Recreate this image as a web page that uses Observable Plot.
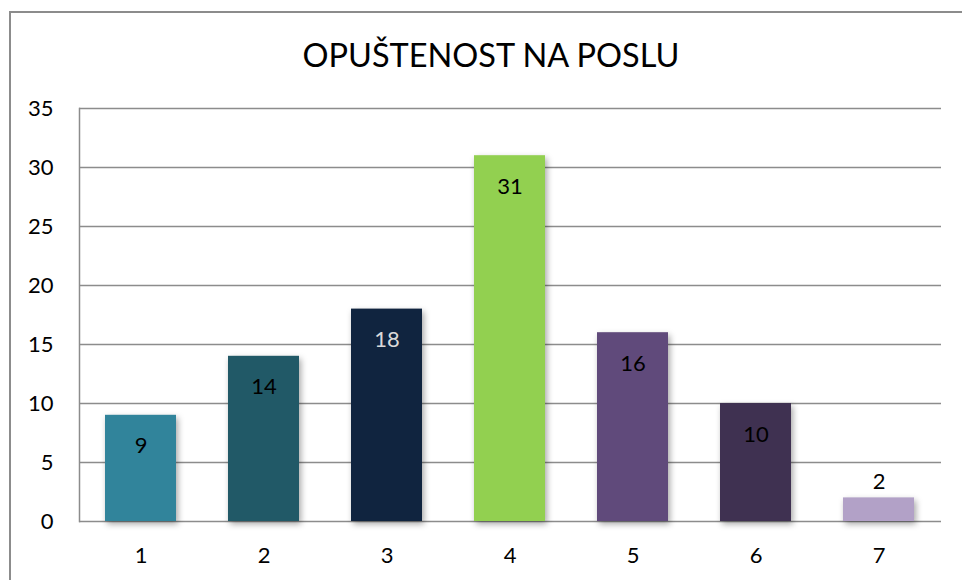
<!DOCTYPE html>
<html>
<head>
<meta charset="utf-8">
<script src="https://cdn.jsdelivr.net/npm/d3@7"></script>
<script src="https://cdn.jsdelivr.net/npm/@observablehq/plot@0.6"></script>
<style>
  html, body { margin: 0; padding: 0; background: #fff; }
  #wrap { position: relative; width: 962px; height: 580px; overflow: hidden; font-family: Lato, "Open Sans", sans-serif; }
  #frame { position: absolute; left: 9px; top: 11px; width: 1000px; height: 620px; border-left: 2px solid #8c8c8c; border-top: 2px solid #8c8c8c; box-sizing: border-box; }
  #title { position: absolute; left: 10px; width: 962px; top: 35px; text-align: center; font-size: 32.5px; color: #000; font-weight: 400; }
  #chart { position: absolute; left: 0; top: 0; }
</style>
</head>
<body>
<div id="wrap">
  <div id="frame"></div>
  <div id="title">OPUŠTENOST NA POSLU</div>
  <div id="chart"></div>
</div>
<script>
const categories = ["1", "2", "3", "4", "5", "6", "7"];
const values = [9, 14, 18, 31, 16, 10, 2];
const barColors = ["#31849B", "#215967", "#10243F", "#92D050", "#604A7B", "#3F3151", "#B2A1C7"];
const labelColors = ["#000000", "#000000", "#D9D9D9", "#000000", "#000000", "#000000", "#000000"];
const yTicks = [0, 5, 10, 15, 20, 25, 30, 35];

const data = categories.map((c, i) => ({cat: c, value: values[i], color: barColors[i], labelColor: labelColors[i]}));

const chart = Plot.plot({
  width: 962,
  height: 580,
  marginLeft: 79,
  marginRight: 21,
  marginTop: 108,
  marginBottom: 59,
  style: {fontFamily: "Lato, 'Open Sans', sans-serif", fontSize: "22px", color: "#000", background: "transparent"},
  x: {domain: categories, paddingInner: 0.42, paddingOuter: 0.21, label: null},
  y: {domain: [0, 35], ticks: yTicks, label: null},
  marks: [
    Plot.gridY(yTicks, {stroke: "#8c8c8c", strokeOpacity: 1, strokeWidth: 1.5}),
    Plot.frame({anchor: "left", stroke: "#8c8c8c", strokeWidth: 1.5}),
    Plot.axisY(yTicks, {tickSize: 0, tickPadding: 26, fontSize: 22, fill: "#000"}),
    Plot.axisX({tickSize: 0, tickPadding: 26, fontSize: 22, fill: "#000"}),
    Plot.barY(data, {x: "cat", y: "value", fill: "color", imageFilter: "drop-shadow(2px 3px 3px rgba(0,0,0,0.35))"}),
    Plot.text(data.filter(d => d.value >= 5), {x: "cat", y: "value", text: d => String(d.value), fill: "labelColor", dy: 31, fontSize: 22}),
    Plot.text(data.filter(d => d.value < 5), {x: "cat", y: "value", text: d => String(d.value), fill: "labelColor", dy: -16, fontSize: 22})
  ]
});
document.getElementById("chart").appendChild(chart);
</script>
</body>
</html>
